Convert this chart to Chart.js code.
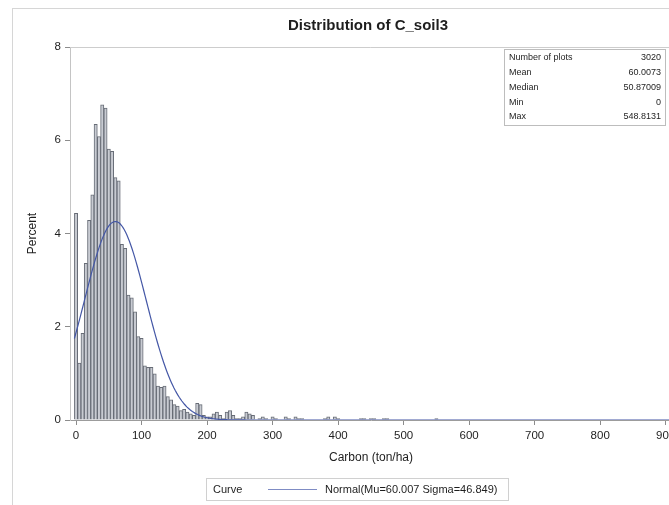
<!DOCTYPE html>
<html>
<head>
<meta charset="utf-8">
<title>Distribution of C_soil3</title>
<script src="https://cdn.jsdelivr.net/npm/chart.js@4.4.0/dist/chart.umd.min.js"></script>
<style>
  html, body { margin: 0; padding: 0; background: #fff; overflow: hidden; }
  #wrap { width: 669px; height: 505px; overflow: hidden; }
  canvas { display: block; }
</style>
</head>
<body>
<div id="wrap"><canvas id="hist" width="700" height="505"></canvas></div>
<script>
// Histogram of C_soil3, 5 ton/ha bins, percent of plots
const BIN_WIDTH = 5;
const BIN_MIDPOINTS = [
  0, 5, 10, 15, 20, 25, 30, 35, 40, 45,
  50, 55, 60, 65, 70, 75, 80, 85, 90, 95,
  100, 105, 110, 115, 120, 125, 130, 135, 140, 145,
  150, 155, 160, 165, 170, 175, 180, 185, 190, 195, 200
];
const BIN_PERCENT = [
  4.43, 1.22, 1.86, 3.36, 4.28, 4.83, 6.34, 6.08, 6.76, 6.69,
  5.81, 5.76, 5.20, 5.13, 3.77, 3.68, 2.68, 2.62, 2.32, 1.79,
  1.75, 1.16, 1.13, 1.13, 0.99, 0.73, 0.70, 0.73, 0.50, 0.43,
  0.33, 0.30, 0.20, 0.23, 0.17, 0.13, 0.10, 0.36, 0.33, 0.10, 0.07
];
// sparse tail above 200 (empty bins left out)
const TAIL_MIDPOINTS = [205, 210, 215, 220, 225, 230, 235, 240, 245, 250, 255, 260, 265, 270,
  280, 285, 290, 300, 305, 320, 325, 335, 340, 345, 380, 385, 395, 400,
  435, 440, 450, 455, 470, 475, 550];
const TAIL_PERCENT = [0.07, 0.13, 0.17, 0.10, 0.03, 0.17, 0.20, 0.10, 0.03, 0.03, 0.07, 0.17, 0.13, 0.10,
  0.03, 0.07, 0.03, 0.07, 0.03, 0.07, 0.03, 0.07, 0.03, 0.03, 0.03, 0.07, 0.07, 0.03,
  0.03, 0.03, 0.03, 0.03, 0.03, 0.03, 0.03];

// fitted normal parameters
const MU = 60.007;
const SIGMA = 46.849;

const STAT_LABELS = ['Number of plots', 'Mean', 'Median', 'Min', 'Max'];
const STAT_VALUES = ['3020', '60.0073', '50.87009', '0', '548.8131'];

const X_TICKS = [0, 100, 200, 300, 400, 500, 600, 700, 800, 900];
const Y_TICKS = [0, 2, 4, 6, 8];
const X_MIN = -9.2;
const X_MAX = 909.6;

const FONT = "'Liberation Sans', Arial, sans-serif";
const TEXT = '#1e1e1e';
const CURVE_COLOR = '#4457a6';

const barPoints = BIN_MIDPOINTS.map((x, i) => ({ x, y: BIN_PERCENT[i] }))
  .concat(TAIL_MIDPOINTS.map((x, i) => ({ x, y: TAIL_PERCENT[i] })));

// normal density scaled to percent per bin, from the first bin's lower edge
const curvePoints = [];
for (let x = -BIN_WIDTH / 2; x <= X_MAX; x += 2) {
  const z = (x - MU) / SIGMA;
  curvePoints.push({ x, y: 100 * BIN_WIDTH / (SIGMA * Math.sqrt(2 * Math.PI)) * Math.exp(-0.5 * z * z) });
}

const frameAndNotes = {
  id: 'frameAndNotes',
  beforeDraw(chart) {
    const ctx = chart.ctx;
    ctx.save();
    ctx.fillStyle = '#fff';
    ctx.fillRect(0, 0, chart.width, chart.height);
    ctx.restore();
  },
  afterDraw(chart) {
    const { ctx, chartArea: a } = chart;
    ctx.save();

    // outer graph border
    ctx.strokeStyle = '#d6d6d6';
    ctx.lineWidth = 1;
    ctx.strokeRect(12.5, 8.5, 900, 700);

    // wall top/right
    ctx.strokeStyle = '#cdcdcd';
    ctx.beginPath();
    ctx.moveTo(a.left, a.top + 0.5);
    ctx.lineTo(a.right - 0.5, a.top + 0.5);
    ctx.lineTo(a.right - 0.5, a.bottom);
    ctx.stroke();

    // title
    ctx.fillStyle = TEXT;
    ctx.font = 'bold 15px ' + FONT;
    ctx.textAlign = 'center';
    ctx.textBaseline = 'middle';
    ctx.fillText('Distribution of C_soil3', 368, 26);

    // summary inset
    ctx.strokeStyle = '#bdbdbd';
    ctx.strokeRect(504.5, 49.5, 161, 76);
    ctx.font = '9px ' + FONT;
    STAT_LABELS.forEach((lab, i) => {
      const y = 58 + i * 14.7;
      ctx.textAlign = 'left';
      ctx.fillText(lab, 509, y);
      ctx.textAlign = 'right';
      ctx.fillText(STAT_VALUES[i], 661, y);
    });

    // legend
    ctx.strokeStyle = '#d0d0d0';
    ctx.strokeRect(206.5, 478.5, 302, 22);
    ctx.font = '11px ' + FONT;
    ctx.textAlign = 'left';
    ctx.fillText('Curve', 213, 489.5);
    ctx.strokeStyle = '#7f8cc4';
    ctx.beginPath();
    ctx.moveTo(268, 489.5);
    ctx.lineTo(317, 489.5);
    ctx.stroke();
    ctx.fillText('Normal(Mu=60.007 Sigma=46.849)', 325, 489.5);

    ctx.restore();
  }
};

new Chart(document.getElementById('hist'), {
  type: 'bar',
  data: {
    datasets: [
      {
        type: 'line',
        data: curvePoints,
        borderColor: CURVE_COLOR,
        borderWidth: 1.2,
        pointRadius: 0,
        tension: 0,
        order: 0
      },
      {
        type: 'bar',
        data: barPoints,
        backgroundColor: '#c8cbd2',
        borderColor: '#676c76',
        borderWidth: 1,
        barPercentage: 1,
        categoryPercentage: 1,
        order: 1
      }
    ]
  },
  options: {
    responsive: false,
    animation: false,
    layout: { padding: { left: 0, top: 47, right: 28, bottom: 40 } },
    plugins: {
      legend: { display: false },
      tooltip: { enabled: false },
      title: { display: false }
    },
    scales: {
      x: {
        type: 'linear',
        min: X_MIN,
        max: X_MAX,
        offset: false,
        afterBuildTicks: s => { s.ticks = X_TICKS.map(v => ({ value: v })); },
        afterFit: s => { s.height = 45; },
        grid: { drawOnChartArea: false, offset: false, tickLength: 5, color: '#8c8c8c' },
        border: { color: '#9c9c9c' },
        ticks: { font: { family: FONT, size: 11.5 }, color: TEXT, padding: 4, maxRotation: 0, autoSkip: false },
        title: { display: true, text: 'Carbon (ton/ha)', color: TEXT, font: { family: FONT, size: 12 }, padding: { top: 0, bottom: 0 } }
      },
      y: {
        min: 0,
        max: 8,
        afterBuildTicks: s => { s.ticks = Y_TICKS.map(v => ({ value: v })); },
        afterFit: s => { s.width = 70; },
        grid: { drawOnChartArea: false, tickLength: 5, color: '#8c8c8c' },
        border: { color: '#c4c4c4' },
        ticks: { font: { family: FONT, size: 11.5 }, color: TEXT, padding: 4 },
        title: { display: true, text: 'Percent', color: TEXT, font: { family: FONT, size: 12 }, padding: { top: 25, bottom: 0 } }
      }
    }
  },
  plugins: [frameAndNotes]
});
</script>
</body>
</html>
